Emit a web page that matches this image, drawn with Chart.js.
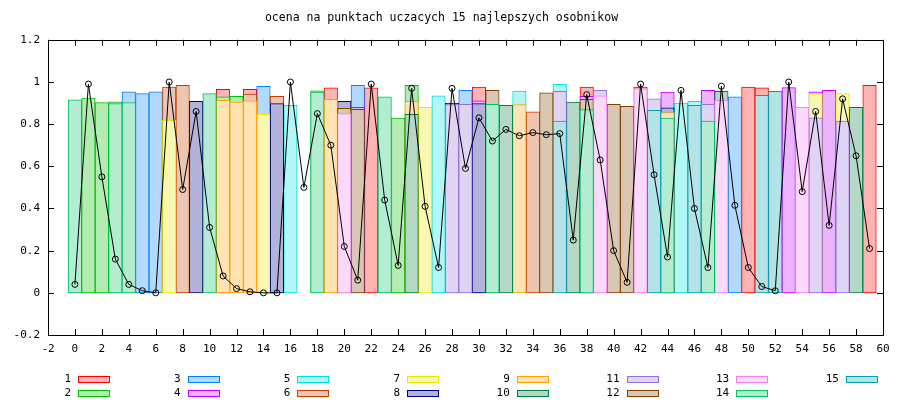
<!DOCTYPE html>
<html>
<head>
<meta charset="utf-8">
<script src="https://cdn.jsdelivr.net/npm/chart.js@4.4.0/dist/chart.umd.min.js"></script>
<style>body{margin:0;background:#fff}</style>
</head>
<body>
<canvas id="chart" width="900" height="400"></canvas>
<script>
const titleText = 'ocena na punktach uczacych 15 najlepszych osobnikow';
const xMin = -2, xMax = 60, xStep = 2;
const yMin = -0.2, yMax = 1.2, yStep = 0.2;

// target curve (points 0..59)
const target = [
  0.04, 0.99, 0.55, 0.16, 0.04, 0.01, 0.0, 1.0, 0.49, 0.86,
  0.31, 0.08, 0.02, 0.005, 0, 0, 1.0, 0.5, 0.85, 0.7,
  0.22, 0.06, 0.99, 0.44, 0.13, 0.97, 0.41, 0.12, 0.97, 0.59,
  0.83, 0.72, 0.775, 0.745, 0.76, 0.75, 0.755, 0.25, 0.94, 0.63,
  0.2, 0.05, 0.99, 0.56, 0.17, 0.96, 0.4, 0.12, 0.98, 0.415,
  0.12, 0.03, 0.01, 1.0, 0.48, 0.86, 0.32, 0.92, 0.65, 0.21
];

// visible boxes of each individual: [point, value]
const s1 = [[11, 0.965], [13, 0.965], [19, 0.972], [22, 0.972], [30, 0.976], [38, 0.976], [42, 0.976], [50, 0.976], [51, 0.972], [59, 0.984]];
const s2 = [[1, 0.924], [2, 0.902], [3, 0.906], [11, 0.929], [12, 0.932], [18, 0.958], [24, 0.829], [25, 0.984]];
const s3 = [[4, 0.953], [5, 0.945], [6, 0.953], [14, 0.979], [21, 0.984], [29, 0.96], [49, 0.929]];
const s4 = [[21, 0.88], [30, 0.91], [38, 0.932], [44, 0.952], [47, 0.96], [53, 0.973], [55, 0.953], [56, 0.96]];
const s5 = [[16, 0.889], [27, 0.934], [33, 0.957], [36, 0.989], [45, 0.9], [46, 0.908]];
const s6 = [[7, 0.976], [8, 0.984], [13, 0.942], [15, 0.932], [34, 0.858]];
const s7 = [[7, 0.818], [14, 0.847], [26, 0.88], [55, 0.945], [57, 0.945]];
const s8 = [[9, 0.908], [15, 0.897], [20, 0.908], [28, 0.9], [30, 0.897], [44, 0.877]];
const s9 = [[11, 0.913], [12, 0.905], [13, 0.91], [19, 0.918], [25, 0.908], [33, 0.893], [44, 0.855]];
const s10 = [[25, 0.847], [32, 0.889], [37, 0.905], [48, 0.956], [58, 0.88]];
const s11 = [[28, 0.893], [29, 0.894], [36, 0.956], [39, 0.96], [43, 0.92], [47, 0.894], [55, 0.83], [57, 0.814]];
const s12 = [[20, 0.875], [21, 0.87], [31, 0.96], [35, 0.948], [38, 0.918], [40, 0.894], [41, 0.885]];
const s13 = [[20, 0.85], [39, 0.934], [42, 0.968], [48, 0.913], [54, 0.88]];
const s14 = [[0, 0.915], [3, 0.898], [4, 0.902], [10, 0.945], [18, 0.952], [23, 0.929], [31, 0.894], [38, 0.869], [44, 0.829], [47, 0.814]];
const s15 = [[36, 0.815], [43, 0.866], [46, 0.889], [51, 0.937], [52, 0.956]];

const series = [s1, s2, s3, s4, s5, s6, s7, s8, s9, s10, s11, s12, s13, s14, s15];
const names = ['1', '2', '3', '4', '5', '6', '7', '8', '9', '10', '11', '12', '13', '14', '15'];
const lineColors = ['#ff0000', '#00c000', '#0080ff', '#c000ff', '#00e0e0', '#c04000', '#e8e800', '#000080',
  '#ffa000', '#008040', '#9370db', '#804000', '#ee82ee', '#00c060', '#00a0b0'];
const fillColors = ['#ffb3b3', '#b3ecb3', '#b3d9ff', '#ecb3ff', '#b3f6f6', '#ecc6b3', '#f8f8b3', '#b3b3d9',
  '#ffe3b3', '#b3d9c6', '#dfd4f4', '#d9c6b3', '#fad9fa', '#b3ecd0', '#b3e3e7'];

const FONT = "'DejaVu Sans Mono', monospace";
Chart.defaults.font.family = FONT;
Chart.defaults.font.size = 11;
Chart.defaults.color = '#000';

// gnuplot-like frame with inward ticks + legend in columns
const gnuFrame = {
  id: 'gnuFrame',
  afterDatasetsDraw(chart) {
    const { ctx, chartArea: a, scales } = chart;
    ctx.save();
    ctx.strokeStyle = '#000';
    ctx.lineWidth = 1;
    ctx.strokeRect(Math.round(a.left) + 0.5, Math.round(a.top) + 0.5,
      Math.round(a.right - a.left), Math.round(a.bottom - a.top));
    ctx.beginPath();
    scales.x.ticks.forEach(t => {
      const px = Math.round(scales.x.getPixelForValue(t.value)) + 0.5;
      ctx.moveTo(px, a.bottom); ctx.lineTo(px, a.bottom - 6);
      ctx.moveTo(px, a.top); ctx.lineTo(px, a.top + 6);
    });
    scales.y.ticks.forEach(t => {
      const py = Math.round(scales.y.getPixelForValue(t.value)) + 0.5;
      ctx.moveTo(a.left, py); ctx.lineTo(a.left + 6, py);
      ctx.moveTo(a.right, py); ctx.lineTo(a.right - 6, py);
    });
    ctx.stroke();
    ctx.restore();
  },
  afterDraw(chart) {
    const ctx = chart.ctx;
    ctx.save();
    ctx.font = '11px ' + FONT;
    ctx.textAlign = 'right';
    ctx.textBaseline = 'middle';
    names.forEach((n, i) => {
      const col = Math.floor(i / 2), row = i % 2;
      const bx = 78 + col * 109.7, cy = 379 + row * 14;
      ctx.fillStyle = '#000';
      ctx.fillText(n, bx - 7, cy);
      ctx.fillStyle = fillColors[i];
      ctx.fillRect(Math.round(bx), cy - 3, 32, 7);
      ctx.strokeStyle = lineColors[i];
      ctx.strokeRect(Math.round(bx) + 0.5, cy - 2.5, 31, 6);
    });
    ctx.restore();
  }
};

const datasets = series.map((s, i) => ({
  type: 'bar',
  label: names[i],
  data: s.map(([x, y]) => ({ x, y })),
  backgroundColor: fillColors[i],
  borderColor: lineColors[i],
  borderWidth: 1,
  borderSkipped: false,
  grouped: false,
  barPercentage: 1,
  categoryPercentage: 1,
  order: 16 - i
}));

datasets.push({
  type: 'line',
  label: 'target',
  data: target.map((y, x) => ({ x, y })),
  borderColor: '#000',
  borderWidth: 1,
  tension: 0,
  pointRadius: 3,
  pointBorderWidth: 1,
  pointBorderColor: '#000',
  pointBackgroundColor: 'rgba(0,0,0,0)',
  order: 0
});

new Chart(document.getElementById('chart'), {
  data: { datasets },
  plugins: [gnuFrame],
  options: {
    responsive: false,
    animation: false,
    devicePixelRatio: 1,
    layout: { padding: { left: 0, right: 17, top: 0, bottom: 40 } },
    plugins: {
      legend: { display: false },
      tooltip: { enabled: false },
      title: {
        display: true,
        text: titleText,
        font: { family: FONT, size: 11.5, weight: 'normal' },
        color: '#000',
        padding: { top: 11, bottom: 15 }
      }
    },
    scales: {
      x: {
        type: 'linear',
        min: xMin,
        max: xMax,
        offset: false,
        grid: { display: false, drawTicks: false },
        border: { display: false },
        ticks: { stepSize: xStep, padding: 8, maxRotation: 0, autoSkip: false },
        afterFit(scale) { scale.height = 25; }
      },
      y: {
        min: yMin,
        max: yMax,
        grid: { display: false, drawTicks: false },
        border: { display: false },
        ticks: {
          stepSize: yStep,
          padding: 8,
          callback: v => String(Math.round(v * 10) / 10)
        },
        afterFit(scale) { scale.width = 48; }
      }
    }
  }
});
</script>
</body>
</html>
